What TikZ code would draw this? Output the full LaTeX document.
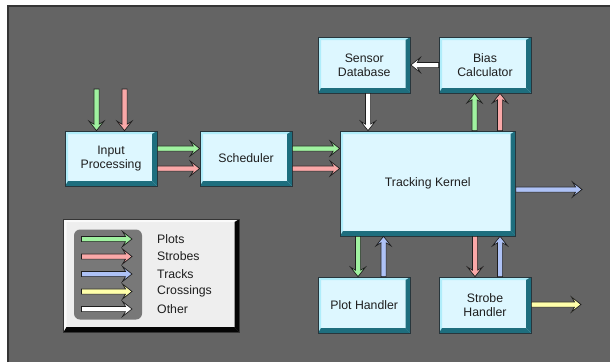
\documentclass[tikz,border=0pt]{standalone}
\usepackage{fontspec}
\setmainfont{Liberation Sans}
\usetikzlibrary{calc}
\definecolor{bggray}{HTML}{646464}
\definecolor{bgedge}{HTML}{353535}
\definecolor{boxface}{HTML}{DDF7FF}
\definecolor{boxlight}{HTML}{B0EDFA}
\definecolor{boxdark}{HTML}{1E6E7E}
\definecolor{boxline}{HTML}{28363C}
\definecolor{pgreen}{HTML}{A0F2A0}
\definecolor{pred}{HTML}{FAA8A8}
\definecolor{pblue}{HTML}{AEC2F6}
\definecolor{pyellow}{HTML}{FFFFAA}
\definecolor{legface}{HTML}{EEEEEE}
\definecolor{leglight}{HTML}{FAFAFA}
\definecolor{legdark}{HTML}{050505}
\definecolor{leginner}{HTML}{787878}
\definecolor{txt}{HTML}{1E1E1E}
\newcommand\boxfont{\fontsize{12.3}{14}\selectfont}
% fat arrow from #2 to #3, fill colour #1
\newcommand\farr[3]{%
  \draw[fatarrow, fill=#1]
  ($(#2)!2.6pt!90:(#3)$) --
  ($(#3)!6.5pt!(#2)!2.6pt!270:(#2)$) --
  ($(#3)!9.5pt!(#2)!7.5pt!270:(#2)$) --
  (#3) --
  ($(#3)!9.5pt!(#2)!7.5pt!90:(#2)$) --
  ($(#3)!6.5pt!(#2)!2.6pt!90:(#2)$) --
  ($(#2)!2.6pt!270:(#3)$) -- cycle;}
\tikzset{
  fatarrow/.style={draw=txt, line width=0.7pt, line join=miter},
  bevel/.style n args={4}{path picture={
    \fill[#1] (path picture bounding box.north west) -- (path picture bounding box.north east)
      -- ([shift={(-#3,-#3)}]path picture bounding box.north east)
      -- ([shift={(#3,-#3)}]path picture bounding box.north west) -- cycle;
    \fill[#1] (path picture bounding box.north west) -- ([shift={(#3,-#3)}]path picture bounding box.north west)
      -- ([shift={(#3,#4)}]path picture bounding box.south west) -- (path picture bounding box.south west) -- cycle;
    \fill[#2] (path picture bounding box.north east) -- (path picture bounding box.south east)
      -- ([shift={(-#4,#4)}]path picture bounding box.south east)
      -- ([shift={(-#4,-#3)}]path picture bounding box.north east) -- cycle;
    \fill[#2] (path picture bounding box.south west) -- (path picture bounding box.south east)
      -- ([shift={(-#4,#4)}]path picture bounding box.south east)
      -- ([shift={(#3,#4)}]path picture bounding box.south west) -- cycle;
  }},
  box/.style={draw=boxline, line width=0.7pt, fill=boxface, inner sep=2pt, align=center,
    font=\boxfont, text=txt, bevel={boxlight}{boxdark}{3pt}{5pt}},
  legbox/.style={draw=bgedge, line width=0.7pt, fill=legface, inner sep=0pt,
    bevel={leglight}{legdark}{3pt}{5pt}},
  leglabel/.style={anchor=west, font=\boxfont, text=txt, inner sep=0pt}
}
\begin{document}
\begin{tikzpicture}[x=1pt,y=-1pt]
\useasboundingbox (0,0) rectangle (610,362);
\fill[white] (0,0) rectangle (610,362);
\fill[bggray] (7,5) rectangle (610,362);
\draw[bgedge, line width=1.5pt] (7.75,362) -- (7.75,5.75) -- (610,5.75);

% boxes
\node[box, minimum width=92pt, minimum height=55pt] (ip) at (111,158.5) {Input\\Processing};
\node[box, minimum width=92pt, minimum height=55pt] (sch) at (246,158.5) {Scheduler};
\node[box, minimum width=175.5pt, minimum height=105pt] (tk) at (427.75,183.5) {Tracking Kernel};
\node[box, minimum width=92.5pt, minimum height=56pt] (sdb) at (364.25,65) {Sensor\\Database};
\node[box, minimum width=92pt, minimum height=56pt] (bc) at (485,65) {Bias\\Calculator};
\node[box, minimum width=92.5pt, minimum height=56pt] (ph) at (364.25,305) {Plot Handler};
\node[box, minimum width=92pt, minimum height=56pt] (sh) at (485,305) {Strobe\\Handler};

% input arrows
\coordinate (inG) at (96.5,89);
\coordinate (inR) at (124.5,89);
\coordinate (inGe) at (inG |- ip.north);
\coordinate (inRe) at (inR |- ip.north);
\farr{pgreen}{inG}{inGe}
\farr{pred}{inR}{inRe}

% input processing -> scheduler
\coordinate (a1) at ([yshift=10pt]ip.east);
\coordinate (a2) at ([yshift=-10pt]ip.east);
\coordinate (a1e) at (a1 -| sch.west);
\coordinate (a2e) at (a2 -| sch.west);
\farr{pgreen}{a1}{a1e}
\farr{pred}{a2}{a2e}

% scheduler -> tracking kernel
\coordinate (s1) at ([yshift=10pt]sch.east);
\coordinate (s2) at ([yshift=-10pt]sch.east);
\coordinate (s1e) at (s1 -| tk.west);
\coordinate (s2e) at (s2 -| tk.west);
\farr{pgreen}{s1}{s1e}
\farr{pred}{s2}{s2e}

% sensor database -> tracking kernel
\coordinate (d1) at ([xshift=3.75pt]sdb.south);
\coordinate (d1e) at (d1 |- tk.north);
\farr{white}{d1}{d1e}

% bias calculator -> sensor database
\farr{white}{bc.west}{sdb.east}

% tracking kernel -> bias calculator
\coordinate (u1) at (474.5,0);
\coordinate (u2) at (500,0);
\coordinate (u1s) at (u1 |- tk.north);
\coordinate (u2s) at (u2 |- tk.north);
\coordinate (u1e) at (u1 |- bc.south);
\coordinate (u2e) at (u2 |- bc.south);
\farr{pgreen}{u1s}{u1e}
\farr{pred}{u2s}{u2e}

% tracking kernel -> output tracks
\coordinate (o1) at (582,189.5);
\coordinate (o1s) at (o1 -| tk.east);
\farr{pblue}{o1s}{o1}

% tracking kernel <-> plot handler
\coordinate (p1) at (358,0);
\coordinate (p2) at (383.5,0);
\coordinate (p1s) at (p1 |- tk.south);
\coordinate (p1e) at (p1 |- ph.north);
\coordinate (p2s) at (p2 |- ph.north);
\coordinate (p2e) at (p2 |- tk.south);
\farr{pgreen}{p1s}{p1e}
\farr{pblue}{p2s}{p2e}

% tracking kernel <-> strobe handler
\coordinate (q1) at (475,0);
\coordinate (q2) at (500,0);
\coordinate (q1s) at (q1 |- tk.south);
\coordinate (q1e) at (q1 |- sh.north);
\coordinate (q2s) at (q2 |- sh.north);
\coordinate (q2e) at (q2 |- tk.south);
\farr{pred}{q1s}{q1e}
\farr{pblue}{q2s}{q2e}

% strobe handler -> crossings
\coordinate (o2) at (581,304.5);
\coordinate (o2s) at (o2 -| sh.east);
\farr{pyellow}{o2s}{o2}

% legend
\node[legbox, minimum width=176pt, minimum height=113pt] (leg) at (151.5,275.5) {};
\node[fill=leginner, rounded corners=6pt, minimum width=68pt, minimum height=90pt, inner sep=0pt] (legin) at (108,274.5) {};
\foreach \i/\yy in {1/239,2/256.5,3/274,4/291.5,5/309}{
  \coordinate (la\i) at (81.5,\yy);
  \coordinate (lb\i) at (132,\yy);
}
\farr{pgreen}{la1}{lb1}
\farr{pred}{la2}{lb2}
\farr{pblue}{la3}{lb3}
\farr{pyellow}{la4}{lb4}
\farr{white}{la5}{lb5}
\node[leglabel] (t1) at (157,239) {Plots};
\node[leglabel] (t2) at (157,256.5) {Strobes};
\node[leglabel] (t3) at (157,274) {Tracks};
\node[leglabel] (t4) at (157,291.5) {Crossings};
\node[leglabel] (t5) at (157,309) {Other};
\end{tikzpicture}
\end{document}
